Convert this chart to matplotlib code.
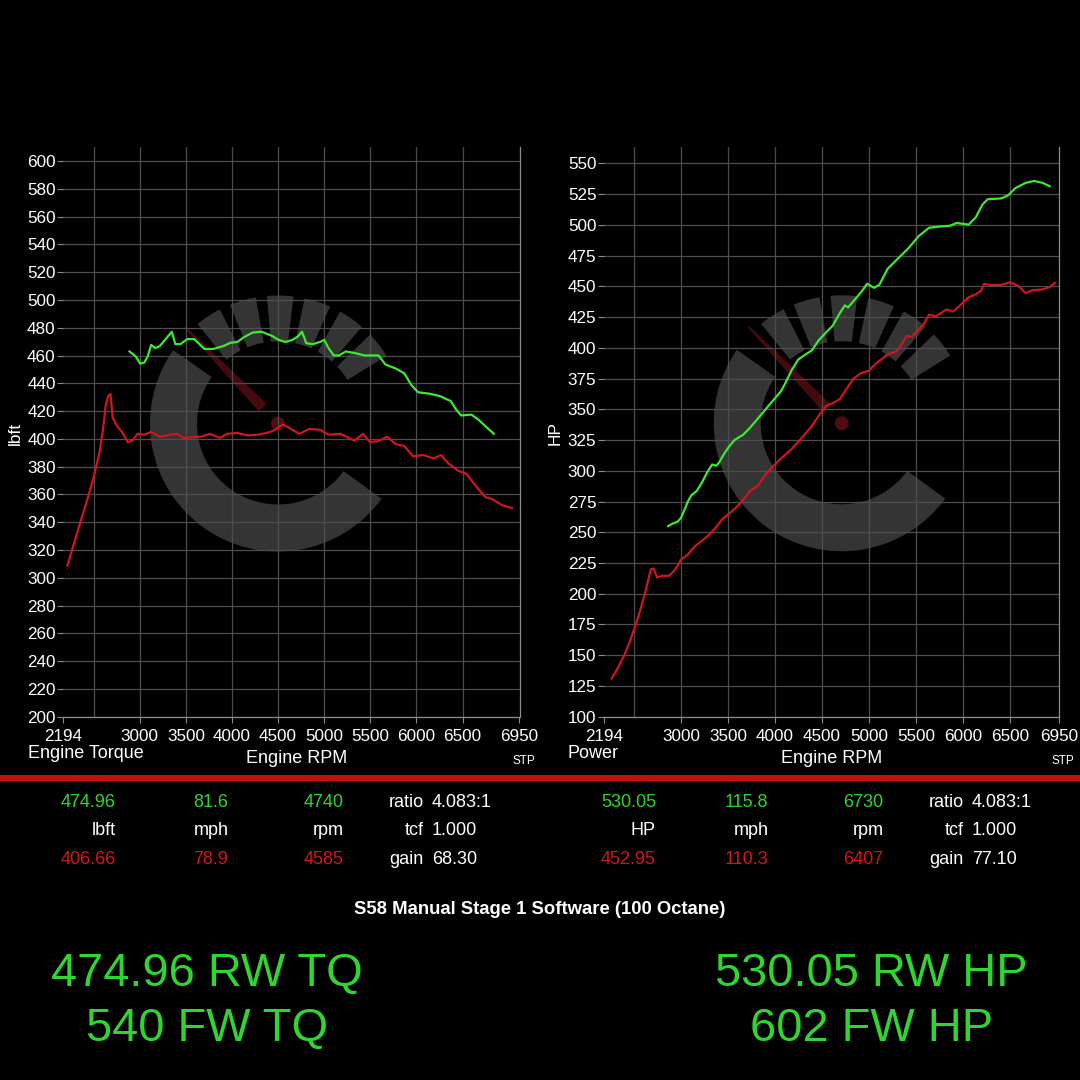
import matplotlib
matplotlib.use("Agg")
import matplotlib.pyplot as plt
import numpy as np
from matplotlib.patches import Wedge, Polygon, Circle
from matplotlib.transforms import Affine2D

# ---------------- data ----------------
tq_green_rpm = [2888, 2955, 3004, 3049, 3086, 3123, 3168, 3217, 3273, 3347, 3385, 3441, 3515, 3590,
                3646, 3702, 3796, 3908, 3982, 4057, 4132, 4225, 4319, 4431, 4505, 4580, 4655, 4711,
                4760, 4805, 4879, 4954, 4999, 5047, 5103, 5159, 5234, 5327, 5439, 5589, 5664, 5776,
                5869, 5944, 6018, 6149, 6261, 6373, 6429, 6485, 6597, 6671, 6765, 6840]
tq_green = [463.0, 459.5, 454.2, 455.0, 459.5, 467.7, 465.4, 466.9, 471.3, 477.2, 468.3, 468.3, 471.9,
            471.9, 468.3, 464.8, 464.8, 466.9, 469.2, 469.8, 473.4, 476.6, 477.2, 474.3, 471.3, 469.8,
            471.3, 473.6, 477.2, 468.9, 468.3, 469.8, 471.3, 465.4, 460.1, 460.1, 463.0, 461.9, 460.1,
            460.1, 453.6, 450.7, 447.2, 438.9, 433.6, 432.5, 430.7, 427.2, 421.3, 416.9, 417.5, 414.0,
            408.1, 403.7]

tq_red_rpm = [2215, 2283, 2357, 2432, 2507, 2563, 2600, 2630, 2656, 2682, 2705, 2750, 2806, 2869, 2918,
              2974, 3049, 3123, 3217, 3310, 3403, 3478, 3571, 3665, 3758, 3870, 3945, 4057, 4169, 4281,
              4393, 4468, 4550, 4617, 4729, 4841, 4954, 5047, 5178, 5327, 5421, 5495, 5589, 5682, 5776,
              5869, 5962, 6074, 6186, 6268, 6336, 6448, 6541, 6635, 6747, 6821, 6933, 7038]
tq_red = [308.7, 324.3, 340.5, 356.7, 374.3, 390.4, 406.6, 424.2, 430.7, 432.5, 415.4, 409.6, 405.1,
          397.8, 398.7, 403.7, 403.1, 405.1, 401.6, 402.8, 403.7, 400.7, 401.3, 401.6, 403.7, 400.7,
          403.7, 404.3, 402.5, 403.1, 404.6, 406.6, 410.4, 408.1, 403.7, 407.2, 406.6, 403.1, 403.7,
          398.7, 403.7, 397.8, 398.4, 401.6, 396.3, 394.9, 387.5, 388.4, 386.0, 388.4, 383.1, 377.2,
          374.9, 366.9, 358.1, 356.7, 352.2, 350.2]

hp_green_rpm = [2861, 2908, 2963, 3000, 3037, 3073, 3110, 3165, 3220, 3275, 3330, 3374, 3404, 3459, 3514,
                3569, 3660, 3734, 3844, 3954, 4064, 4100, 4174, 4247, 4321, 4394, 4467, 4541, 4614, 4688,
                4743, 4779, 4834, 4926, 4981, 5054, 5110, 5201, 5311, 5421, 5531, 5641, 5751, 5861, 5935,
                6063, 6137, 6210, 6265, 6412, 6485, 6559, 6669, 6760, 6852, 6926]
hp_green = [255.0, 257.0, 258.6, 261.9, 268.6, 275.2, 280.2, 283.5, 290.2, 298.5, 305.1, 304.1, 306.7,
            314.0, 320.0, 325.0, 329.3, 335.0, 344.9, 354.9, 364.8, 369.8, 381.4, 390.4, 394.4, 398.0,
            406.3, 412.3, 417.9, 427.9, 434.5, 432.9, 437.8, 446.1, 452.1, 448.8, 451.1, 464.4, 472.7,
            481.0, 490.9, 497.6, 498.6, 499.2, 501.5, 500.2, 505.9, 516.5, 520.8, 521.5, 524.1, 529.8,
            534.1, 535.7, 534.1, 531.4]

hp_red_rpm = [2259, 2321, 2395, 2450, 2505, 2560, 2615, 2652, 2677, 2707, 2743, 2798, 2872, 2927, 2963,
              3000, 3073, 3147, 3220, 3293, 3367, 3440, 3514, 3587, 3660, 3734, 3826, 3881, 3954, 4064,
              4174, 4284, 4394, 4467, 4541, 4614, 4688, 4761, 4834, 4908, 4999, 5073, 5128, 5201, 5293,
              5348, 5403, 5458, 5531, 5586, 5641, 5715, 5825, 5898, 5972, 6063, 6137, 6192, 6228, 6302,
              6412, 6503, 6595, 6669, 6742, 6852, 6926, 6981]
hp_red = [130.9, 139.1, 150.1, 160.7, 172.3, 185.6, 200.6, 212.2, 219.8, 220.5, 213.2, 214.6, 214.6,
          218.8, 223.1, 227.8, 232.1, 238.7, 243.0, 247.7, 253.6, 260.9, 265.3, 270.2, 276.2, 283.5,
          288.5, 295.1, 301.8, 310.1, 317.4, 326.7, 336.6, 344.9, 352.5, 354.9, 358.2, 366.5, 374.8,
          379.1, 381.4, 387.1, 390.4, 394.7, 397.0, 403.0, 409.6, 409.0, 414.6, 419.6, 426.9, 425.6,
          431.2, 429.5, 434.5, 441.2, 443.5, 446.1, 452.1, 451.1, 451.1, 453.4, 450.1, 444.5, 446.8,
          447.5, 449.4, 452.8]

rpm_ticks = [3000, 3500, 4000, 4500, 5000, 5500, 6000, 6500]
rpm_grid = [2500, 3000, 3500, 4000, 4500, 5000, 5500, 6000, 6500]
edge_labels = ["2194", "6950"]
tq_ticks = list(range(200, 601, 20))
hp_ticks = list(range(100, 551, 25))

tq_table = [["474.96", "81.6", "4740"], ["lbft", "mph", "rpm"], ["406.66", "78.9", "4585"]]
tq_side = [("ratio", "4.083:1"), ("tcf", "1.000"), ("gain", "68.30")]
hp_table = [["530.05", "115.8", "6730"], ["HP", "mph", "rpm"], ["452.95", "110.3", "6407"]]
hp_side = [("ratio", "4.083:1"), ("tcf", "1.000"), ("gain", "77.10")]

title = "S58 Manual Stage 1 Software (100 Octane)"
big_left = ["474.96 RW TQ", "540 FW TQ"]
big_right = ["530.05 RW HP", "602 FW HP"]

# ---------------- style ----------------
plt.rcParams['font.family'] = ['Liberation Sans', 'DejaVu Sans']
GREEN_LINE = '#3cea32'
RED_LINE = '#d01420'
GREEN_TXT = '#2fd62f'
RED_TXT = '#d41616'
GRID = '#4e4e4e'
AXC = '#8c8c8c'
W = H = 1080

fig = plt.figure(figsize=(10.8, 10.8), dpi=100, facecolor='black')
px_tr = Affine2D().scale(1 / W, 1 / H) + fig.transFigure


def fx(x):
    return x / W


def fy(y):
    return 1 - y / H


def make_axes(left, right, top, bottom):
    return fig.add_axes([fx(left), fy(bottom), (right - left) / W, (bottom - top) / H])


def logo(ax, cx, cy):
    cyu = H - cy
    grey = '#343434'
    ax.add_patch(Wedge((cx, cyu), 128, 145, 324, width=47, transform=px_tr,
                       facecolor=grey, edgecolor='none', zorder=0.2))
    for a in [38, 55, 72, 89, 106, 123]:
        ax.add_patch(Wedge((cx, cyu), 128, a - 6.0, a + 6.0, width=46, transform=px_tr,
                           facecolor=grey, edgecolor='none', zorder=0.2))
    ang = np.deg2rad(134)
    perp = ang + np.pi / 2
    r0, r1, w0, w1 = 22, 134, 5.5, 1.0
    pts = [(cx + r0 * np.cos(ang) + w0 * np.cos(perp), cyu + r0 * np.sin(ang) + w0 * np.sin(perp)),
           (cx + r1 * np.cos(ang) + w1 * np.cos(perp), cyu + r1 * np.sin(ang) + w1 * np.sin(perp)),
           (cx + r1 * np.cos(ang) - w1 * np.cos(perp), cyu + r1 * np.sin(ang) - w1 * np.sin(perp)),
           (cx + r0 * np.cos(ang) - w0 * np.cos(perp), cyu + r0 * np.sin(ang) - w0 * np.sin(perp))]
    ax.add_patch(Polygon(pts, closed=True, transform=px_tr, facecolor='#440a0e',
                         edgecolor='none', zorder=0.25))
    ax.add_patch(Circle((cx, cyu), 7, transform=px_tr, facecolor='#520b10',
                        edgecolor='none', zorder=0.25))


def style(ax, xlim, ylim, yticks):
    ax.set_facecolor('black')
    ax.set_xlim(xlim)
    ax.set_ylim(ylim)
    ax.set_yticks(yticks)
    ax.xaxis.remove_overlapping_locs = False
    ax.set_xticks([xlim[0]] + rpm_ticks + [xlim[1]])
    ax.set_xticklabels([edge_labels[0]] + [str(t) for t in rpm_ticks] + [edge_labels[1]])
    ax.set_xticks(rpm_grid, minor=True)
    ax.grid(False)
    ax.grid(True, which='minor', axis='x', color=GRID, lw=0.9)
    ax.grid(True, which='major', axis='y', color=GRID, lw=0.9)
    ax.set_axisbelow(True)
    for s in ['top', 'left']:
        ax.spines[s].set_visible(False)
    for s in ['bottom', 'right']:
        ax.spines[s].set_color(AXC)
        ax.spines[s].set_linewidth(0.9)
    ax.tick_params(axis='x', which='major', direction='out', length=4, width=0.8, color=AXC,
                   labelcolor='white', labelsize=12.3, pad=4.5)
    ax.tick_params(axis='x', which='minor', length=0)
    ax.tick_params(axis='y', direction='out', length=4, width=0.8, color=AXC,
                   labelcolor='white', labelsize=12.3, pad=1.5)


# left: torque
ax1 = make_axes(63.3, 519.5, 147, 716.7)
style(ax1, (2170, 7118), (200, 610.2), tq_ticks)
logo(ax1, 278, 423.5)
ax1.plot(tq_red_rpm, tq_red, color=RED_LINE, lw=1.6, zorder=3)
ax1.plot(tq_green_rpm, tq_green, color=GREEN_LINE, lw=1.6, zorder=3)

# right: power
ax2 = make_axes(604, 1059, 147, 716.7)
style(ax2, (2178, 7025), (100, 563.3), hp_ticks)
logo(ax2, 841.7, 423.3)
ax2.plot(hp_red_rpm, hp_red, color=RED_LINE, lw=1.6, zorder=3)
ax2.plot(hp_green_rpm, hp_green, color=GREEN_LINE, lw=1.6, zorder=3)

# axis texts
fig.text(fx(28), fy(758.5), "Engine Torque", color='white', fontsize=13, ha='left', va='baseline')
fig.text(fx(567.5), fy(758.5), "Power", color='white', fontsize=13, ha='left', va='baseline')
fig.text(fx(15.5), fy(433), "lbft", color='white', fontsize=12.5, rotation=90, ha='center', va='center')
fig.text(fx(555.5), fy(433), "HP", color='white', fontsize=12.5, rotation=90, ha='center', va='center')
fig.text(fx(296.6), fy(763), "Engine RPM", color='white', fontsize=13, ha='center', va='baseline')
fig.text(fx(831.5), fy(763), "Engine RPM", color='white', fontsize=13, ha='center', va='baseline')
fig.text(fx(523.5), fy(764), "STP", color='white', fontsize=8.5, ha='center', va='baseline')
fig.text(fx(1062.5), fy(764), "STP", color='white', fontsize=8.5, ha='center', va='baseline')

# red separator
fig.add_artist(plt.Rectangle((0, fy(781)), 1, 6 / H, transform=fig.transFigure,
                             facecolor='#c80f0f', edgecolor='none'))

# table
row_y = [806.7, 835.3, 864]
row_col = [GREEN_TXT, 'white', RED_TXT]
col_right = [116, 228.5, 343.3]
for off, tab, side in [(0, tq_table, tq_side), (540, hp_table, hp_side)]:
    for r, (vals, yb, c) in enumerate(zip(tab, row_y, row_col)):
        for v, xr in zip(vals, col_right):
            fig.text(fx(xr + off), fy(yb), v, color=c, fontsize=13, ha='right', va='baseline')
        lab, val = side[r]
        fig.text(fx(423.5 + off), fy(yb), lab, color='white', fontsize=13, ha='right', va='baseline')
        fig.text(fx(431.7 + off), fy(yb), val, color='white', fontsize=13, ha='left', va='baseline')

fig.text(fx(540), fy(913.5), title, color='white', fontsize=13.3, fontweight='bold',
         ha='center', va='baseline')

for xc, lines in [(207.2, big_left), (871.7, big_right)]:
    for txt, yb in zip(lines, [985.5, 1041]):
        fig.text(fx(xc), fy(yb), txt, color=GREEN_TXT, fontsize=33.8, ha='center', va='baseline')

fig.savefig("out.png", dpi=100, facecolor='black')
